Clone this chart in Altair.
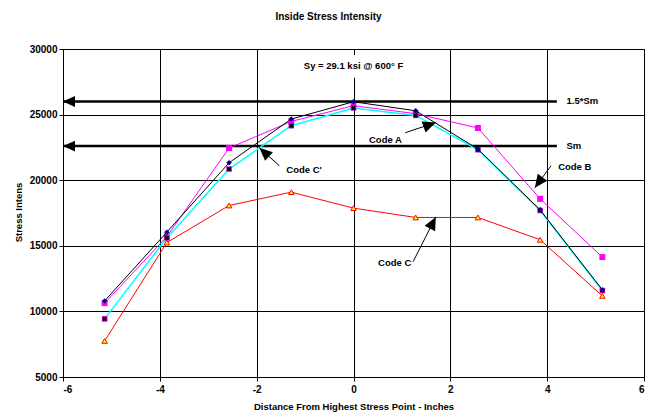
import altair as alt
import pandas as pd

# ---------------- data ----------------
x_pos = [-5.14, -3.855, -2.57, -1.285, 0.0, 1.285, 2.57, 3.855, 5.14]
code_a_vals = [10800, 16040, 21330, 24660, 25980, 25290, 22370, 17740, 11640]   # black
code_b_vals = [10630, 15700, 22450, 24480, 25680, 25070, 23980, 18580, 14140]   # magenta
code_c2_vals = [9430, 15600, 20850, 24150, 25500, 24940, 22320, 17690, 11590]   # cyan
code_c_vals = [7750, 15250, 18070, 19090, 17870, 17160, 17160, 15460, 11180]    # red

series_names = ["Code C", "Code B", "Code C'", "Code A"]
series_vals = [code_c_vals, code_b_vals, code_c2_vals, code_a_vals]

ref_labels = ["1.5*Sm", "Sm"]
ref_values = [26000, 22600]
ref_start = -6
ref_end = 4.2
ref_label_x = 4.4

arrow_tail_x = [1.07, -1.53, 4.08, 1.23]
arrow_tail_y = [23620, 21100, 21100, 13780]
arrow_tip_x = [1.70, -1.945, 3.745, 1.70]
arrow_tip_y = [24400, 22470, 19420, 17200]
arrow_angle = [160, 42, 306, 117]

note_text = ["Code A", "Code C'", "Code B", "Code C"]
note_x = [0.66, -1.02, 4.57, 0.85]
note_y = [23080, 20790, 21020, 13700]

sy_text = ["Sy = 29.1 ksi @ 600\u00b0 F"]
sy_x = [0.0]
sy_y = [28730]

x_ticks = [-6, -4, -2, 0, 2, 4, 6]
y_ticks = [5000, 10000, 15000, 20000, 25000, 30000]

FONT = "Liberation Sans"

# ---------------- tables ----------------
rows = []
for name, vals in zip(series_names, series_vals):
    for xv, yv in zip(x_pos, vals):
        rows.append({"x": xv, "y": yv, "series": name})
df = pd.DataFrame(rows)

ref_df = pd.DataFrame({"label": ref_labels, "y": ref_values,
                       "x": [ref_start] * 2, "x2": [ref_end] * 2,
                       "lx": [ref_label_x] * 2})
arr_df = pd.DataFrame({"x": arrow_tail_x, "y": arrow_tail_y,
                       "x2": arrow_tip_x, "y2": arrow_tip_y, "angle": arrow_angle})
note_df = pd.DataFrame({"text": note_text, "x": note_x, "y": note_y})
sy_df = pd.DataFrame({"text": sy_text, "x": sy_x, "y": sy_y,
                      "xa": [-1.1], "xb": [1.1], "ya": [27800], "yb": [29550]})

xscale = alt.Scale(domain=[-6, 6], nice=False, zero=False)
yscale = alt.Scale(domain=[5000, 30000], nice=False, zero=False)
xaxis = alt.Axis(values=x_ticks, title="Distance From Highest Stress Point - Inches",
                 tickSize=4, labelPadding=3, titlePadding=7, grid=True,
                 labelExpr="'' + datum.value")
yaxis = alt.Axis(values=y_ticks, title="Stress Intens", tickSize=4, labelPadding=2,
                 grid=True, labelExpr="'' + datum.value",
                 titleX=-45, titleY=163, titleAlign="center",
                 titleBaseline="middle", titleAngle=270)


def X(f):
    return alt.X(f, type="quantitative", scale=xscale, axis=xaxis)


def Y(f):
    return alt.Y(f, type="quantitative", scale=yscale, axis=yaxis)


arrow_path = "M0,0L1,-0.45L1,0.45Z"

layers = []

# white box behind the Sy note (interrupts the x = 0 gridline)
layers.append(alt.Chart(sy_df).mark_rect(color="white", opacity=1).encode(
    x=X("xa"), x2="xb", y=Y("ya"), y2="yb"))

# reference lines with arrows
layers.append(alt.Chart(ref_df).mark_rule(color="black", strokeWidth=2.5).encode(
    x=X("x"), x2="x2", y=Y("y")))
layers.append(alt.Chart(ref_df).mark_point(shape=arrow_path, filled=True, color="black",
                                           opacity=1, size=576).encode(x=X("x"), y=Y("y")))
layers.append(alt.Chart(ref_df).mark_text(font=FONT, fontWeight="bold", fontSize=9.5,
                                          align="left", baseline="middle").encode(
    x=X("lx"), y=Y("y"), text="label"))

line_colors = {"Code C": "#FF0000", "Code B": "#FF00FF", "Code C'": "#00FFFF", "Code A": "#000000"}
line_widths = {"Code C": 1, "Code B": 1, "Code C'": 1.5, "Code A": 1}

base = alt.Chart(df)
for name in series_names:
    sub = base.transform_filter(alt.datum.series == name)
    layers.append(sub.mark_line(color=line_colors[name], strokeWidth=line_widths[name]).encode(
        x=X("x"), y=Y("y")))
    if name == "Code C":
        layers.append(sub.mark_point(shape="triangle-up", filled=True, fill="#FFFF00",
                                     stroke="#FF0000", strokeWidth=1, size=30, opacity=1).encode(
            x=X("x"), y=Y("y")))
    elif name == "Code B":
        layers.append(sub.mark_point(shape="square", filled=True, color="#FF00FF",
                                     size=36, opacity=1).encode(x=X("x"), y=Y("y")))
    elif name == "Code C'":
        layers.append(sub.mark_point(shape="square", filled=True, color="#CC00CC",
                                     size=30, opacity=1).encode(x=X("x"), y=Y("y")))
        layers.append(sub.mark_point(shape="cross", filled=True, color="black",
                                     size=22, angle=45, opacity=1).encode(x=X("x"), y=Y("y")))
    else:
        layers.append(sub.mark_point(shape="diamond", filled=True, color="#000080",
                                     size=30, opacity=1).encode(x=X("x"), y=Y("y")))

# annotation arrows
layers.append(alt.Chart(arr_df).mark_rule(color="black", strokeWidth=1).encode(
    x=X("x"), y=Y("y"), x2="x2", y2="y2"))
layers.append(alt.Chart(arr_df).mark_point(shape=arrow_path, filled=True, color="black",
                                           opacity=1, size=676).encode(
    x=X("x2"), y=Y("y2"), angle=alt.Angle("angle:Q", scale=None)))
layers.append(alt.Chart(note_df).mark_text(font=FONT, fontWeight="bold", fontSize=9.5,
                                           align="center", baseline="middle").encode(
    x=X("x"), y=Y("y"), text="text"))
layers.append(alt.Chart(sy_df).mark_text(font=FONT, fontWeight="bold", fontSize=9.5,
                                         align="center", baseline="middle").encode(
    x=X("x"), y=Y("y"), text="text"))

chart = alt.layer(*layers).properties(
    width=581, height=328,
    background="white",
    autosize=alt.AutoSizeParams(type="none"),
    padding={"left": 55, "top": 41, "right": 2, "bottom": 40},
    title=alt.TitleParams("Inside Stress Intensity", font=FONT, fontSize=10,
                          fontWeight="bold", color="black", dx=-25, offset=22),
).configure_view(stroke="black", strokeWidth=1).configure_axis(
    labelFont=FONT, labelFontWeight="bold", labelFontSize=10, labelColor="black",
    titleFont=FONT, titleFontWeight="bold", titleFontSize=9.5, titleColor="black",
    tickColor="black", domainColor="black", gridColor="black", gridOpacity=1,
    gridWidth=1, domainWidth=1, tickWidth=1,
)

chart.save("out.html", embed_options={"renderer": "svg", "actions": False})
